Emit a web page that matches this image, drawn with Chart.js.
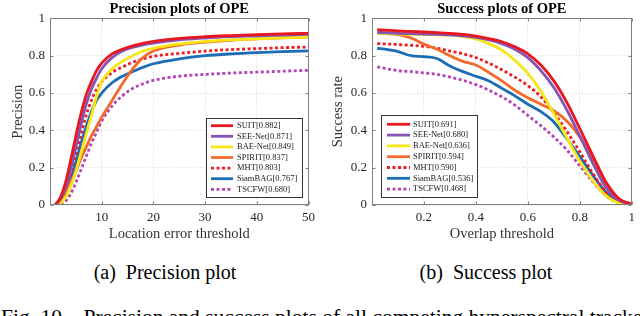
<!DOCTYPE html>
<html>
<head>
<meta charset="utf-8">
<script src="https://cdn.jsdelivr.net/npm/chart.js@4/dist/chart.umd.min.js"></script>
<style>
  body { margin: 0; background: #fff; width: 640px; height: 316px; overflow: hidden; position: relative; }
  .plot { position: absolute; top: 0; width: 320px; height: 244px; }
  .cap { position: absolute; font-family: 'Liberation Serif', serif; font-size: 20px; color: #000; white-space: nowrap; line-height: 20px; }
</style>
</head>
<body>
<div class="plot" style="left:0"><canvas id="prec" width="320" height="244"></canvas></div>
<div class="plot" style="left:320px"><canvas id="succ" width="320" height="244"></canvas></div>
<div class="cap" style="left:0;width:330px;text-align:center;top:262px">(a)&nbsp; Precision plot</div>
<div class="cap" style="left:320px;width:332px;text-align:center;top:262px">(b)&nbsp; Success plot</div>
<div class="cap" style="left:1px;top:307px;font-size:21.5px">Fig. 10.&nbsp;&nbsp; Precision and success plots of all competing hyperspectral trackers.</div>
<script>
// ---- data ----
const trackers = ['SUIT', 'SEE-Net', 'BAE-Net', 'SPIRIT', 'MHT', 'SiamBAG', 'TSCFW'];
const precScores = ['0.882', '0.871', '0.849', '0.837', '0.803', '0.767', '0.680'];
const succScores = ['0.691', '0.680', '0.636', '0.594', '0.590', '0.536', '0.468'];

// location error threshold (pixels)
const precThresh = [1, 2, 3, 4, 5, 6, 7, 8, 9, 10, 12, 14, 16, 18, 20, 25, 30, 35, 40, 45, 50];
const precSUIT    = [0.00, 0.04, 0.12, 0.24, 0.37, 0.49, 0.59, 0.66, 0.72, 0.76, 0.81, 0.835, 0.853, 0.866, 0.877, 0.893, 0.902, 0.908, 0.913, 0.917, 0.92];
const precSEENet  = [0.00, 0.03, 0.09, 0.19, 0.31, 0.43, 0.54, 0.62, 0.68, 0.73, 0.79, 0.825, 0.845, 0.858, 0.868, 0.885, 0.895, 0.902, 0.907, 0.911, 0.914];
const precBAENet  = [0.00, 0.01, 0.04, 0.10, 0.18, 0.28, 0.38, 0.48, 0.58, 0.66, 0.73, 0.77, 0.80, 0.825, 0.84, 0.863, 0.877, 0.885, 0.891, 0.896, 0.90];
const precSPIRIT  = [0.00, 0.02, 0.06, 0.12, 0.18, 0.25, 0.31, 0.37, 0.42, 0.47, 0.56, 0.65, 0.73, 0.79, 0.825, 0.857, 0.873, 0.883, 0.89, 0.896, 0.90];
const precMHT     = [0.00, 0.03, 0.09, 0.17, 0.27, 0.38, 0.48, 0.56, 0.62, 0.66, 0.71, 0.74, 0.765, 0.783, 0.797, 0.813, 0.825, 0.833, 0.838, 0.843, 0.847];
const precSiamBAG = [0.00, 0.02, 0.07, 0.14, 0.23, 0.33, 0.42, 0.50, 0.56, 0.60, 0.655, 0.69, 0.715, 0.738, 0.757, 0.783, 0.80, 0.81, 0.817, 0.822, 0.826];
const precTSCFW   = [0.00, 0.005, 0.02, 0.06, 0.12, 0.19, 0.26, 0.33, 0.39, 0.45, 0.53, 0.585, 0.625, 0.65, 0.668, 0.69, 0.70, 0.707, 0.712, 0.717, 0.722];

// overlap threshold
const succThresh = [0.02, 0.05, 0.1, 0.15, 0.2, 0.25, 0.3, 0.35, 0.4, 0.45, 0.5, 0.55, 0.6, 0.65, 0.7, 0.75, 0.8, 0.85, 0.9, 0.95, 1.0];
const succSUIT    = [0.94, 0.937, 0.933, 0.93, 0.927, 0.924, 0.92, 0.914, 0.905, 0.892, 0.875, 0.848, 0.81, 0.75, 0.665, 0.55, 0.41, 0.265, 0.125, 0.035, 0.005];
const succSEENet  = [0.925, 0.923, 0.92, 0.918, 0.916, 0.914, 0.912, 0.907, 0.898, 0.885, 0.865, 0.835, 0.79, 0.72, 0.63, 0.51, 0.37, 0.225, 0.095, 0.025, 0.005];
const succBAENet  = [0.92, 0.918, 0.916, 0.914, 0.913, 0.912, 0.91, 0.903, 0.89, 0.865, 0.83, 0.775, 0.705, 0.61, 0.49, 0.36, 0.235, 0.13, 0.05, 0.01, 0.0];
const succSPIRIT  = [0.92, 0.918, 0.913, 0.895, 0.862, 0.835, 0.80, 0.77, 0.75, 0.71, 0.665, 0.615, 0.575, 0.54, 0.505, 0.45, 0.365, 0.245, 0.115, 0.03, 0.0];
const succMHT     = [0.865, 0.863, 0.86, 0.856, 0.85, 0.84, 0.825, 0.81, 0.79, 0.76, 0.725, 0.685, 0.64, 0.58, 0.495, 0.395, 0.285, 0.17, 0.07, 0.015, 0.0];
const succSiamBAG = [0.84, 0.835, 0.822, 0.80, 0.795, 0.785, 0.745, 0.715, 0.69, 0.665, 0.625, 0.585, 0.54, 0.50, 0.445, 0.355, 0.26, 0.16, 0.07, 0.015, 0.0];
const succTSCFW   = [0.74, 0.732, 0.72, 0.715, 0.708, 0.70, 0.685, 0.668, 0.645, 0.615, 0.58, 0.535, 0.48, 0.425, 0.365, 0.295, 0.21, 0.125, 0.05, 0.01, 0.0];

const precSeries = [precSUIT, precSEENet, precBAENet, precSPIRIT, precMHT, precSiamBAG, precTSCFW];
const succSeries = [succSUIT, succSEENet, succBAENet, succSPIRIT, succMHT, succSiamBAG, succTSCFW];

// line styles, same order as trackers
const colors = ['#e8161e', '#8553b3', '#f6e614', '#f26a2c', '#ee1c24', '#1b6db5', '#b646b6'];
const dashes = [null, null, null, null, [3, 2.5], null, [3, 2.5]];

const serif = "'Liberation Serif', 'Times New Roman', serif";
const tickCol = '#262626';

// draws the matlab style box (with inward tick marks) and the legend inside it
const boxAndLegend = {
  id: 'boxAndLegend',
  afterDraw(chart, args, o) {
    const { ctx, chartArea: a, scales } = chart;
    ctx.save();
    ctx.strokeStyle = '#808080';
    ctx.lineWidth = 1;
    const L = Math.round(a.left) + 0.5, T = Math.round(a.top) + 0.5;
    const R = Math.round(a.right) - 0.5, B = Math.round(a.bottom) - 0.5;
    ctx.strokeRect(L, T, R - L, B - T);

    // tick marks pointing into the plot
    ctx.beginPath();
    scales.x.ticks.forEach(t => {
      const px = Math.round(scales.x.getPixelForValue(t.value)) + 0.5;
      ctx.moveTo(px, B); ctx.lineTo(px, B - 3);
      ctx.moveTo(px, T); ctx.lineTo(px, T + 3);
    });
    scales.y.ticks.forEach(t => {
      const py = Math.round(scales.y.getPixelForValue(t.value)) + 0.5;
      ctx.moveTo(L, py); ctx.lineTo(L + 3, py);
      ctx.moveTo(R, py); ctx.lineTo(R - 3, py);
    });
    ctx.stroke();

    ctx.fillStyle = '#fff';
    ctx.fillRect(o.x, o.y, o.w, o.h);
    ctx.strokeStyle = '#333';
    ctx.strokeRect(o.x + 0.5, o.y + 0.5, o.w, o.h);

    ctx.font = '8.5px ' + serif;
    ctx.textBaseline = 'middle';
    chart.data.datasets.forEach((ds, i) => {
      const y = o.row0 + i * o.rowH;
      ctx.strokeStyle = ds.borderColor;
      ctx.lineWidth = ds.borderWidth;
      ctx.setLineDash(ds.borderDash || []);
      ctx.beginPath();
      ctx.moveTo(o.lx1, y);
      ctx.lineTo(o.lx2, y);
      ctx.stroke();
      ctx.setLineDash([]);
      ctx.fillStyle = '#1a1a1a';
      ctx.fillText(ds.label, o.tx, y);
    });
    ctx.restore();
  }
};

function makeDatasets(xs, series, scores) {
  return series.map((vals, i) => ({
    label: trackers[i] + '[' + scores[i] + ']',
    data: vals.map((v, j) => ({ x: xs[j], y: v })),
    borderColor: colors[i],
    borderWidth: 2.8,
    borderDash: dashes[i] || [],
    pointRadius: 0,
    cubicInterpolationMode: 'monotone',
    fill: false
  }));
}

function makeChart(id, opt) {
  return new Chart(document.getElementById(id), {
    type: 'line',
    data: { datasets: makeDatasets(opt.xs, opt.series, opt.scores) },
    plugins: [boxAndLegend],
    options: {
      responsive: false,
      animation: false,
      layout: { padding: { left: 0, right: opt.padRight, top: 0, bottom: 0 } },
      plugins: {
        legend: { display: false },
        tooltip: { enabled: false },
        title: {
          display: true,
          text: opt.title,
          fullSize: false,
          color: '#000',
          font: { family: serif, size: 14.5, weight: 'bold' },
          padding: { top: 1, bottom: 0 }
        },
        boxAndLegend: opt.legend
      },
      scales: {
        x: {
          type: 'linear',
          min: 0,
          max: opt.xMax,
          afterFit: s => { s.height = 39; },
          grid: { color: '#d6d6d6', drawTicks: false },
          border: { display: false, dash: [1, 2] },
          ticks: {
            stepSize: opt.xStep,
            padding: 5,
            maxRotation: 0,
            color: tickCol,
            font: { family: serif, size: 13 },
            callback: v => v === 0 ? '' : String(Math.round(v * 10) / 10)
          },
          title: {
            display: true,
            text: opt.xTitle,
            color: '#333',
            font: { family: serif, size: 14.5 },
            padding: { top: 0, bottom: 1 }
          }
        },
        y: {
          min: 0,
          max: 1,
          afterFit: s => { s.width = opt.yWidth; },
          grid: { color: '#d6d6d6', drawTicks: false },
          border: { display: false, dash: [1, 2] },
          ticks: {
            stepSize: 0.2,
            padding: 5,
            color: tickCol,
            font: { family: serif, size: 13 },
            callback: v => String(Math.round(v * 10) / 10)
          },
          title: {
            display: true,
            text: opt.yTitle,
            color: '#333',
            font: { family: serif, size: 14.5 },
            padding: { top: 9, bottom: 0 }
          }
        }
      }
    }
  });
}

makeChart('prec', {
  xs: precThresh, series: precSeries, scores: precScores,
  title: 'Precision plots of OPE', xTitle: 'Location error threshold', yTitle: 'Precision',
  xMax: 50, xStep: 10, yWidth: 50, padRight: 8,
  legend: { x: 206, y: 118, w: 96, h: 79, lx1: 211, lx2: 233, tx: 237, row0: 125.7, rowH: 10.6 }
});

makeChart('succ', {
  xs: succThresh, series: succSeries, scores: succScores,
  title: 'Success plots of OPE', xTitle: 'Overlap threshold', yTitle: 'Success rate',
  xMax: 1, xStep: 0.2, yWidth: 52, padRight: 4,
  legend: { x: 61, y: 115, w: 96, h: 82, lx1: 67, lx2: 90, tx: 93, row0: 124.3, rowH: 10.8 }
});
</script>
</body>
</html>
